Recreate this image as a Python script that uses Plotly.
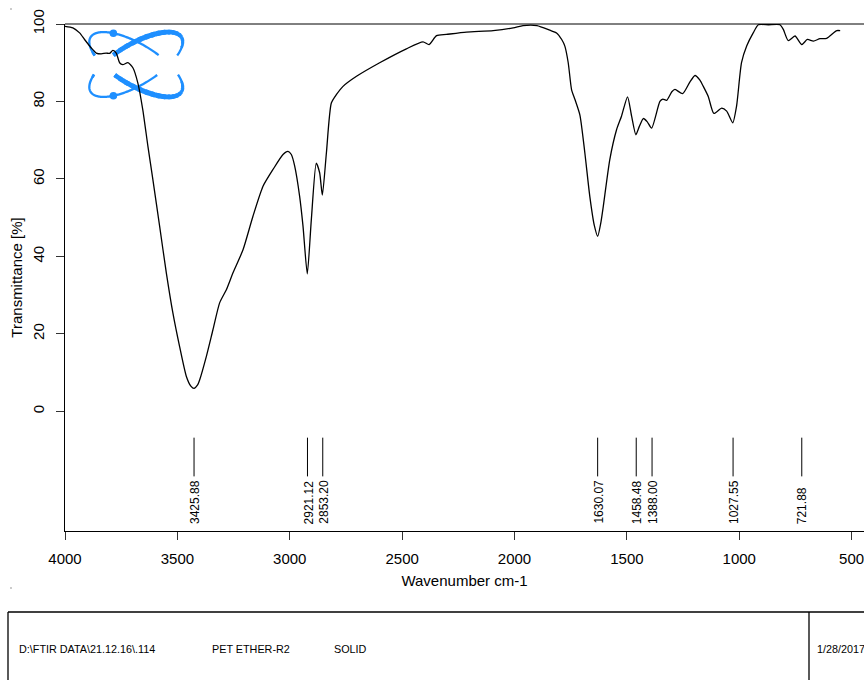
import math
import plotly.graph_objects as go

# ---------------- data ----------------
wavenumber = [4000, 3965, 3935, 3913, 3883, 3861, 3839, 3817, 3802, 3787, 3772, 3757, 3743,
              3720, 3698, 3676, 3654, 3631, 3609, 3579, 3549, 3520, 3490, 3460, 3440, 3426,
              3410, 3401, 3371, 3342, 3312, 3282, 3253, 3208, 3164, 3119, 3075, 3030, 3008,
              2993, 2978, 2956, 2941, 2922, 2904, 2882, 2867, 2855, 2837, 2815, 2792, 2763,
              2703, 2600, 2481, 2407, 2380, 2347, 2303, 2214, 2095, 2006, 1962, 1900, 1843,
              1813, 1790, 1776, 1761, 1746, 1731, 1709, 1687, 1665, 1645, 1630, 1615, 1605,
              1576, 1546, 1524, 1497, 1479, 1460, 1445, 1427, 1410, 1390, 1353, 1340, 1323,
              1300, 1286, 1252, 1220, 1197, 1175, 1160, 1138, 1113, 1078, 1056, 1029, 1012,
              990, 967, 938, 915, 870, 819, 804, 782, 752, 722, 697, 670, 641, 611, 581, 566, 551]
transmittance = [99.4, 99.0, 97.7, 96.0, 93.8, 92.5, 92.3, 92.5, 92.4, 93.2, 92.5, 90.0, 89.5,
                 90.0, 88.7, 84.8, 77.9, 68.4, 59.8, 47.8, 35.7, 25.4, 16.7, 9.0, 6.5, 5.9,
                 6.8, 8.1, 14.2, 21.0, 28.0, 31.4, 35.7, 41.7, 50.3, 58.1, 62.4, 66.3, 67.1,
                 66.3, 63.3, 55.5, 47.8, 35.5, 49.5, 64.1, 61.6, 55.8, 66.7, 79.6, 81.8, 83.9,
                 86.5, 90.0, 93.6, 95.4, 94.7, 97.0, 97.3, 97.9, 98.3, 99.0, 99.6, 99.6, 98.4,
                 97.7, 96.0, 94.3, 90.0, 83.0, 80.5, 76.5, 66.7, 55.5, 48.0, 45.2, 49.0, 52.9,
                 65.0, 72.7, 76.2, 81.2, 76.2, 71.4, 73.5, 75.6, 74.8, 73.1, 80.0, 80.6, 80.3,
                 82.5, 83.1, 82.0, 85.0, 86.7, 85.5, 83.9, 81.3, 76.9, 78.3, 77.5, 74.5, 78.8,
                 90.0, 94.3, 97.7, 99.8, 99.8, 99.8, 98.6, 95.7, 96.9, 94.7, 96.0, 95.6, 96.2,
                 96.3, 97.7, 98.3, 98.3]

peak_wavenumbers = [3425.88, 2921.12, 2853.20, 1630.07, 1458.48, 1388.00, 1027.55, 721.88]
peak_labels = [f"{p:.2f}" for p in peak_wavenumbers]

x_ticks = [4000, 3500, 3000, 2500, 2000, 1500, 1000, 500]
y_ticks = [0, 20, 40, 60, 80, 100]

info_texts = ["D:\\FTIR DATA\\21.12.16\\.114", "PET ETHER-R2", "SOLID", "1/28/2017"]

# ---------------- geometry helpers (pixels -> paper) ----------------
W, H = 864, 680
PL, PT, PW, PH = 65, 24, 799, 507
PB = PT + PH


def pp(x, y):
    return ((x - PL) / PW, (PB - y) / PH)


FONT = "Liberation Sans, Arial, sans-serif"
BLUE = "#1e8fff"

fig = go.Figure()

fig.add_trace(go.Scatter(
    x=wavenumber, y=transmittance, mode="lines",
    line=dict(color="black", width=1.3, shape="spline", smoothing=0.6),
    hoverinfo="x+y", showlegend=False))

# peak marker ticks
mx, my = [], []
for p in peak_wavenumbers:
    mx += [p, p, None]
    my += [-6.8, -16.8, None]
fig.add_trace(go.Scatter(x=mx, y=my, mode="lines", line=dict(color="black", width=1),
                         hoverinfo="skip", showlegend=False))

annotations = []
for p, lab in zip(peak_wavenumbers, peak_labels):
    annotations.append(dict(x=p, y=-29.6, xref="x", yref="y", text=lab, showarrow=False,
                            textangle=-90, xanchor="center", yanchor="bottom", xshift=1,
                            font=dict(family=FONT, size=12, color="black")))

# ---------------- logo ----------------
shapes = []
cx, cy, a, b, th = 136.0, 64.5, 53.0, 20.5, math.radians(30.9)
N = 360
pts = []
for i in range(N + 1):
    t = 2 * math.pi * i / N
    x = cx + a * math.cos(t) * math.cos(th) - b * math.sin(t) * math.sin(th)
    y = cy + a * math.cos(t) * math.sin(th) + b * math.sin(t) * math.cos(th)
    w = 2.3 + 2.9 * max(0.0, math.sin(t + 0.5))
    pts.append((x, y, w))


def in_gap(y):
    return 55.5 < y < 74.5


def path_of(seg):
    return "M " + " L ".join(f"{pp(q[0], q[1])[0]:.5f},{pp(q[0], q[1])[1]:.5f}" for q in seg)


for mirror in (False, True):
    P = [(x, 2 * cy - y if mirror else y, w) for x, y, w in pts]
    # continuous thin base strokes (split at the gap band)
    runs, cur = [], []
    for q in P:
        if in_gap(q[1]):
            if len(cur) > 1:
                runs.append(cur)
            cur = []
        else:
            cur.append(q)
    if len(cur) > 1:
        runs.append(cur)
    for r in runs:
        shapes.append(dict(type="path", path=path_of(r), xref="paper", yref="paper",
                           line=dict(color=BLUE, width=2.3), layer="below"))
    # thicker overlapping pieces
    step = 8
    for s in range(0, N, step):
        seg = P[max(0, s - 2):s + step + 3]
        seg = [q for q in seg if not in_gap(q[1])]
        if len(seg) < 2:
            continue
        wavg = sum(q[2] for q in seg) / len(seg)
        if wavg < 2.6:
            continue
        shapes.append(dict(type="path", path=path_of(seg), xref="paper", yref="paper",
                           line=dict(color=BLUE, width=wavg), layer="below"))

best = min((q for q in pts if q[1] < cy), key=lambda q: abs(q[0] - 113.7))
for dy in (best[1], 2 * cy - best[1]):
    x0, y0 = pp(best[0] - 3.8, dy + 3.8)
    x1, y1 = pp(best[0] + 3.8, dy - 3.8)
    shapes.append(dict(type="circle", xref="paper", yref="paper", x0=x0, y0=y0, x1=x1, y1=y1,
                       fillcolor=BLUE, line=dict(width=0), layer="below"))

# top border of the plot
shapes.append(dict(type="line", xref="paper", yref="paper", x0=0, x1=1, y0=1, y1=1,
                   line=dict(color="black", width=1)))

# ---------------- info box ----------------
bx0, by0 = pp(8, 612)
bx1, by1 = pp(870, 700)
dvx, _ = pp(809, 612)
shapes.append(dict(type="line", xref="paper", yref="paper", x0=bx0, x1=bx1, y0=by0, y1=by0,
                   line=dict(color="black", width=1.3)))
shapes.append(dict(type="line", xref="paper", yref="paper", x0=bx0, x1=bx0, y0=by0, y1=by1,
                   line=dict(color="black", width=1.3)))
shapes.append(dict(type="line", xref="paper", yref="paper", x0=dvx, x1=dvx, y0=by0, y1=by1,
                   line=dict(color="black", width=1.3)))

for (dx, dyy) in [(11, 9), (11, 588)]:
    x0, y0 = pp(dx - 0.6, dyy + 0.6)
    x1, y1 = pp(dx + 0.6, dyy - 0.6)
    shapes.append(dict(type="rect", xref="paper", yref="paper", x0=x0, y0=y0, x1=x1, y1=y1,
                       fillcolor="#555", line=dict(width=0)))

info_x = [17, 210, 332, 815]
for tx, txt in zip(info_x, info_texts):
    ax, ay = pp(tx, 649)
    annotations.append(dict(x=ax, y=ay, xref="paper", yref="paper", text=txt, showarrow=False,
                            xanchor="left", yanchor="middle",
                            font=dict(family=FONT, size=10.8, color="black")))

fig.update_layout(
    width=W, height=H,
    margin=dict(l=PL, r=W - PL - PW, t=PT, b=H - PB, pad=0),
    paper_bgcolor="white", plot_bgcolor="white",
    font=dict(family=FONT, size=15, color="black"),
    shapes=shapes, annotations=annotations,
    xaxis=dict(range=[4000, 445], tickvals=x_ticks, ticks="outside", ticklen=8,
               tickcolor="#333", showline=True, linecolor="black", linewidth=1,
               showgrid=False, zeroline=False, ticklabelstandoff=6,
               ticklabeloverflow="allow",
               tickfont=dict(family=FONT, size=15),
               title=dict(text="Wavenumber cm-1", font=dict(family=FONT, size=15), standoff=9)),
    yaxis=dict(range=[-30.9, 100], tickvals=y_ticks, ticks="outside", ticklen=8,
               tickcolor="#333", showline=True, linecolor="black", linewidth=1,
               showgrid=False, zeroline=False, tickangle=-90, ticklabelstandoff=6,
               tickfont=dict(family=FONT, size=15),
               title=dict(text="Transmittance [%]", font=dict(family=FONT, size=15), standoff=3)),
)

fig.write_html(
    "out.html",
    config={"displayModeBar": False},
    post_script="document.body.style.margin='0';document.documentElement.style.overflow='hidden';",
)
